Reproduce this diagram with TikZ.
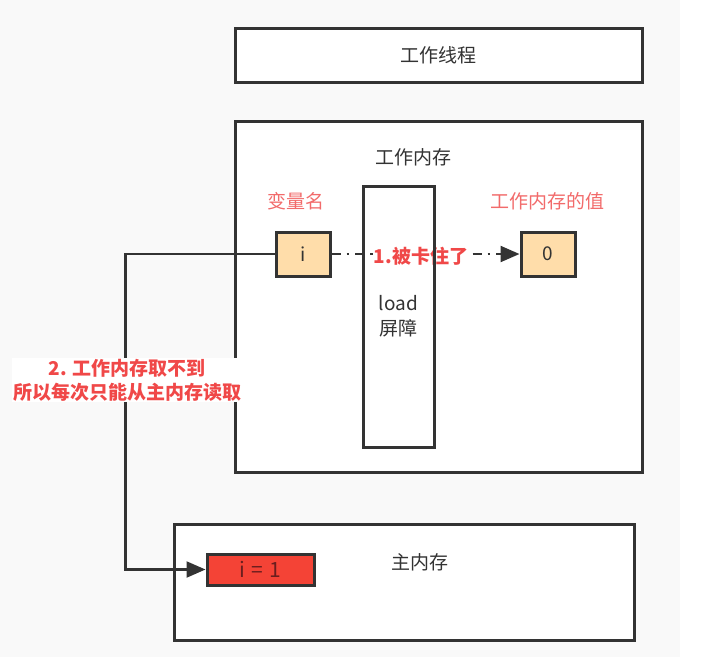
\documentclass[tikz,border=0pt]{standalone}
\usepackage{fontspec}
\setmainfont{Noto Sans CJK SC}
\usetikzlibrary{arrows.meta, positioning}
\definecolor{pagegray}{HTML}{F9F9F9}
\definecolor{boxline}{HTML}{333333}
\definecolor{varfill}{HTML}{FFDDAA}
\definecolor{valred}{HTML}{F44336}
\definecolor{valtext}{HTML}{6B1E1E}
\definecolor{notered}{HTML}{F04848}
\definecolor{softred}{HTML}{F26B6B}

\begin{document}
\begin{tikzpicture}[
  x=1pt, y=-1pt,
  membox/.style={rectangle, draw=boxline, line width=3pt, fill=white, inner sep=0pt, text=boxline},
  memvar/.style={membox, fill=varfill, minimum width=54pt, minimum height=44pt, font=\fontsize{19}{22}\selectfont},
  boxtitle/.style={text=boxline, font=\fontsize{19}{23}\selectfont},
  remark/.style={text=notered, font=\fontsize{19}{24}\selectfont\bfseries, align=center},
  link/.style={line width=2.2pt, draw=boxline},
  >={Triangle[length=19pt, width=16pt]}
]

% Page
\fill[pagegray] (0,0) rectangle (680,657);
\useasboundingbox (0,0) rectangle (720,657);

% Work thread and work memory
\node[membox, minimum width=407pt, minimum height=54pt, font=\fontsize{19}{23}\selectfont] (thread) at (438.5,55) {工作线程};
\node[membox, minimum width=407pt, minimum height=351pt] (workmem) at (438.5,296.5) {};
\node[boxtitle] (worktitle) at (413,157) {工作内存};

% Variable and its value
\node[boxtitle, text=softred] (varname) at (296,201) {变量名};
\node[boxtitle, text=softred] (valname) at (547,201) {工作内存的值};
\node[memvar] (ivar) at (303,254) {i};
\node[memvar] (zero) at (548,254) {0};

\draw[link, ->, dash pattern=on 9pt off 6pt on 2.5pt off 6pt] (ivar.east) -- (zero.west);
\node[remark, fill=white, inner sep=0.5pt] (stuck) at (421,256) {1.被卡住了};

% Barrier drawn over the label
\node[membox, fill=none, minimum width=71pt, minimum height=261pt, align=center,
      font=\fontsize{19}{25}\selectfont] (barrier) at (398.5,316.5) {load\\屏障};

% Main memory
\node[membox, minimum width=460pt, minimum height=116pt] (mainmem) at (404,582) {};
\node[boxtitle] (maintitle) at (420,562) {主内存};
\node[membox, fill=valred, text=valtext, minimum width=107pt, minimum height=31pt,
      font=\fontsize{21}{24}\selectfont] (imain) at (260.5,569.5) {i\hspace{6pt}=\hspace{6pt}1};

% Read from main memory
\draw[link, ->] (ivar.west) -- ++(-149,0) |- (imain.west);
\node[remark, fill=white, inner sep=1pt] (readnote) at (127,380) {2. 工作内存取不到\\所以每次只能从主内存读取};

\end{tikzpicture}
\end{document}
